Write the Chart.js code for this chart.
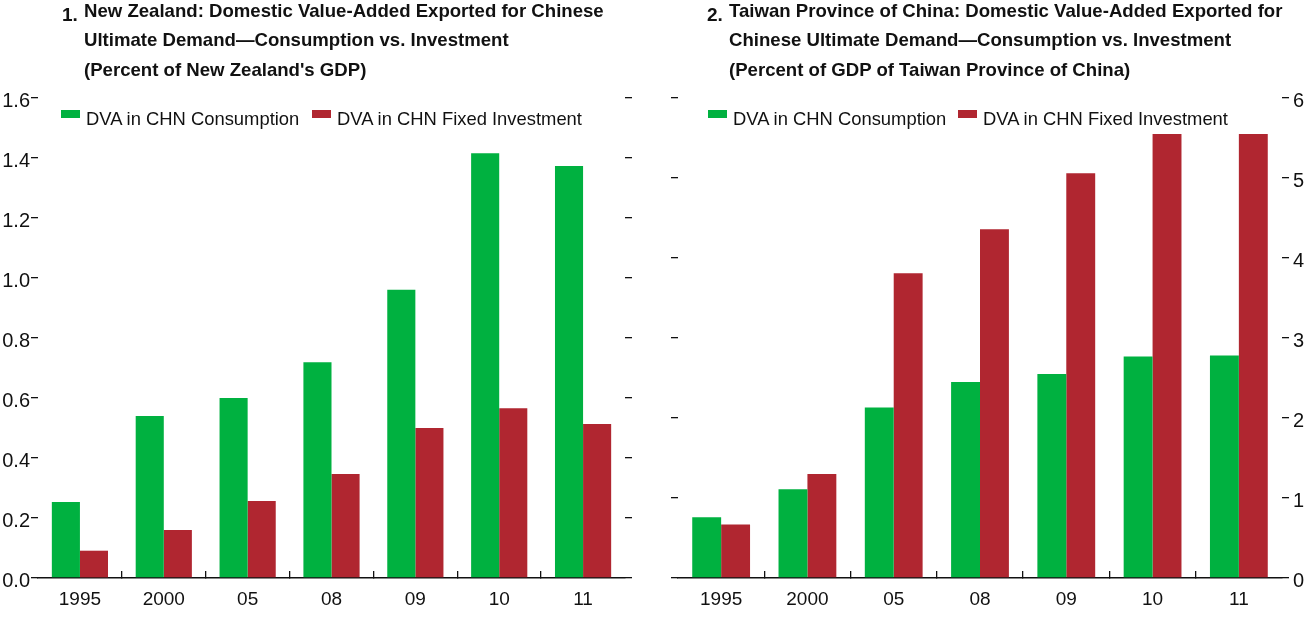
<!DOCTYPE html>
<html>
<head>
<meta charset="utf-8">
<script src="https://cdn.jsdelivr.net/npm/chart.js@4/dist/chart.umd.min.js"></script>
<style>
  html, body { margin: 0; padding: 0; background: #fff; }
  body { width: 1310px; height: 619px; position: relative; overflow: hidden;
         font-family: "Liberation Sans", Arial, sans-serif; color: #111; }
  .cw { position: absolute; top: 0; height: 619px; }
  .title { position: absolute; font-weight: bold; font-size: 18.6px; line-height: 29.7px; white-space: nowrap; color: #111; }
  .num { position: absolute; font-weight: bold; font-size: 19px; line-height: 20px; color: #111; }
  .leg { position: absolute; font-size: 18.4px; line-height: 19px; white-space: nowrap; color: #111; }
  .sw { position: absolute; width: 19px; height: 8px; }
</style>
</head>
<body>
<div class="cw" style="left:0;width:650px;"><canvas id="c1" width="650" height="619"></canvas></div>
<div class="cw" style="left:650px;width:660px;"><canvas id="c2" width="660" height="619"></canvas></div>

<div class="num" style="left:62px;top:5px;">1.</div>
<div class="title" style="left:84px;top:-4.5px;">New Zealand: Domestic Value-Added Exported for Chinese<br>Ultimate Demand—Consumption vs. Investment<br>(Percent of New Zealand's GDP)</div>

<div class="num" style="left:707px;top:5px;">2.</div>
<div class="title" style="left:729px;top:-4.5px;">Taiwan Province of China: Domestic Value-Added Exported for<br>Chinese Ultimate Demand—Consumption vs. Investment<br>(Percent of GDP of Taiwan Province of China)</div>

<div class="sw" style="left:61px;top:110px;background:#00B140;"></div>
<div class="leg" style="left:86px;top:109px;">DVA in CHN Consumption</div>
<div class="sw" style="left:312px;top:110px;background:#B02630;"></div>
<div class="leg" style="left:337px;top:109px;">DVA in CHN Fixed Investment</div>

<div class="sw" style="left:708px;top:110px;background:#00B140;"></div>
<div class="leg" style="left:733px;top:109px;">DVA in CHN Consumption</div>
<div class="sw" style="left:958px;top:110px;background:#B02630;"></div>
<div class="leg" style="left:983px;top:109px;">DVA in CHN Fixed Investment</div>

<script>
const categories = ['1995', '2000', '05', '08', '09', '10', '11'];
const seriesNames = ['DVA in CHN Consumption', 'DVA in CHN Fixed Investment'];
const nzConsumption = [0.253, 0.54, 0.60, 0.719, 0.961, 1.416, 1.373];
const nzInvestment  = [0.091, 0.16, 0.257, 0.347, 0.50, 0.566, 0.513];
const twConsumption = [0.76, 1.11, 2.13, 2.45, 2.55, 2.77, 2.78];
const twInvestment  = [0.67, 1.30, 3.81, 4.36, 5.06, 5.55, 5.55];
const nzTicks = [0, 0.2, 0.4, 0.6, 0.8, 1.0, 1.2, 1.4, 1.6];
const twTicks = [0, 1, 2, 3, 4, 5, 6];

const GREEN = '#00B140';
const RED = '#B02630';
const FONT = '"Liberation Sans", Arial, sans-serif';

function yAxis(pos, ticks, showLabels, width, decimals) {
  return {
    type: 'linear', position: pos, min: ticks[0], max: ticks[ticks.length - 1],
    afterBuildTicks: (s) => { s.ticks = ticks.map(v => ({ value: v })); },
    afterFit: (s) => { s.width = width; },
    border: { display: false },
    grid: { drawOnChartArea: false, drawTicks: true, tickLength: 7, color: '#111', tickColor: '#111', lineWidth: 1.3, tickWidth: 1.3 },
    ticks: {
      display: showLabels, padding: pos === 'left' ? 1 : 4, labelOffset: 3, color: '#111',
      font: { family: FONT, size: 20 },
      callback: (v) => decimals ? Number(v).toFixed(decimals) : String(v)
    }
  };
}

function xAxis() {
  const n = categories.length;
  const col = (ctx) => (ctx.index === undefined || ctx.index === 0 || ctx.index >= n) ? 'rgba(0,0,0,0)' : '#111';
  return {
    type: 'category', position: 'bottom', offset: true,
    afterFit: (s) => { s.height = 41; },
    border: { display: true, color: '#111', width: 1.6 },
    grid: { offset: true, drawOnChartArea: false, drawTicks: true, tickLength: -7, color: col, tickColor: col, lineWidth: 1.3, tickWidth: 1.3 },
    ticks: { color: '#111', padding: 17, maxRotation: 0, autoSkip: false, font: { family: FONT, size: 19 } }
  };
}

function makeChart(id, cons, inv, ticks, leftLabels, decimals, leftW, rightW) {
  const scales = {
    x: xAxis(),
    y: yAxis(leftLabels ? 'left' : 'right', ticks, true, leftLabels ? leftW : rightW, decimals),
    y2: yAxis(leftLabels ? 'right' : 'left', ticks, false, leftLabels ? rightW : leftW, decimals)
  };
  return new Chart(document.getElementById(id), {
    type: 'bar',
    data: {
      labels: categories,
      datasets: [
        { label: seriesNames[0], data: cons, backgroundColor: GREEN, borderWidth: 0, yAxisID: 'y', categoryPercentage: 0.67, barPercentage: 1.0 },
        { label: seriesNames[1], data: inv, backgroundColor: RED, borderWidth: 0, yAxisID: 'y', categoryPercentage: 0.67, barPercentage: 1.0 }
      ]
    },
    options: {
      responsive: false, animation: false, devicePixelRatio: 1,
      layout: { padding: { top: 98, left: 0, right: 0, bottom: 0 } },
      plugins: { legend: { display: false }, tooltip: { enabled: false }, title: { display: false } },
      scales
    }
  });
}

makeChart('c1', nzConsumption, nzInvestment, nzTicks, true, 1, 38, 25);
makeChart('c2', twConsumption, twInvestment, twTicks, false, 0, 28, 28);
</script>
</body>
</html>
